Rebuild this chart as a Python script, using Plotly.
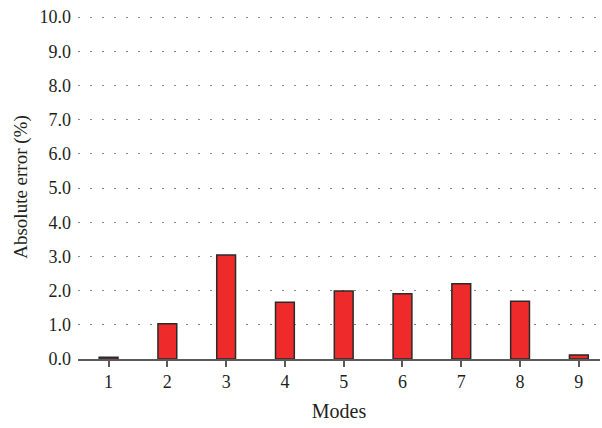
import plotly.graph_objects as go

modes = [1, 2, 3, 4, 5, 6, 7, 8, 9]
abs_error = [0.05, 1.03, 3.04, 1.66, 1.99, 1.91, 2.20, 1.69, 0.12]
y_ticks = [0, 1, 2, 3, 4, 5, 6, 7, 8, 9, 10]

font_family = "Liberation Serif, Times New Roman, serif"

fig = go.Figure(
    go.Bar(
        x=modes,
        y=abs_error,
        width=0.32,
        marker=dict(color="#EE2A2A", line=dict(color="#2a2a2a", width=1.5)),
    )
)

fig.update_layout(
    width=602,
    height=428,
    margin=dict(l=78, r=2, t=15, b=69),
    paper_bgcolor="white",
    plot_bgcolor="white",
    showlegend=False,
    font=dict(family=font_family, size=18, color="#231f20"),
)

fig.update_xaxes(
    range=[0.48, 9.36],
    tickmode="array",
    tickvals=modes,
    ticktext=[str(m) for m in modes],
    showgrid=False,
    showline=True,
    linecolor="#5a5a5a",
    linewidth=1.5,
    ticks="outside",
    ticklen=6,
    tickwidth=1.5,
    tickcolor="#5a5a5a",
    title=dict(text="Modes", font=dict(size=20), standoff=13),
    zeroline=False,
)

fig.update_yaxes(
    range=[0, 10.06],
    tickmode="array",
    tickvals=y_ticks,
    ticktext=[f"{v:.1f}" for v in y_ticks],
    showgrid=True,
    gridcolor="#8a8a8a",
    gridwidth=1.3,
    griddash="1.5px,10.5px",
    showline=False,
    ticks="",
    zeroline=False,
    title=dict(text="Absolute error (%)", font=dict(size=19), standoff=6),
    ticklabelstandoff=6,
)

fig.write_html("out.html")
